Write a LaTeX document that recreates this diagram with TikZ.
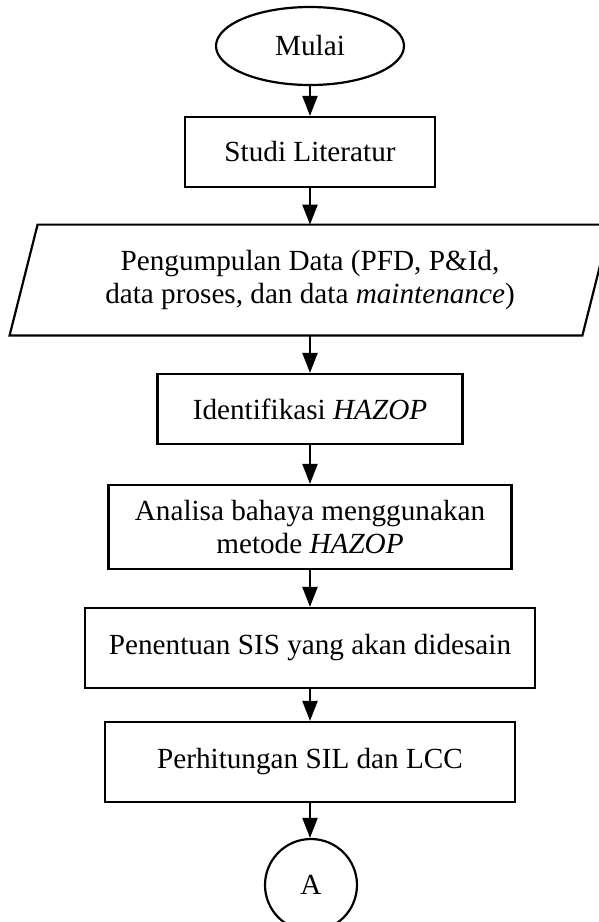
\documentclass[tikz,border=0pt]{standalone}
\usepackage{fontspec}
\setmainfont{Liberation Serif}
\usetikzlibrary{arrows.meta,shapes.geometric,calc}
\begin{document}
\begin{tikzpicture}[x=0.5pt,y=-0.5pt,
  every node/.style={font=\fontsize{14.6}{16.5}\selectfont, align=center, inner sep=0pt},
  procbox/.style={draw, line width=1.1pt, rectangle},
  termshape/.style={draw, line width=1.1pt, ellipse},
  arr/.style={-{Triangle[length=10pt,width=7.5pt]}, line width=1.1pt},
  ]
\useasboundingbox (0,0) rectangle (599,922);
\clip (0,0) rectangle (599,922);
\fill[white] (0,0) rectangle (599,922);

\node[termshape, minimum width=94pt, minimum height=39pt] (start) at (310,46) {Mulai};
\node[procbox, minimum width=125pt, minimum height=35pt] (studi) at (310,152) {Studi Literatur};
\node[minimum width=286pt, minimum height=55pt] (data) at (310,280) {Pengumpulan Data (PFD, P\&Id,\\data proses, dan data \textit{maintenance})};
\draw[line width=1.1pt, line join=miter] ($(data.south west)+(-14,0)$) -- ($(data.south east)+(-14,0)$) -- ($(data.north east)+(14,0)$) -- ($(data.north west)+(14,0)$) -- cycle;
\node[procbox, minimum width=152.5pt, minimum height=35pt] (ident) at (310,409) {Identifikasi \textit{HAZOP}};
\node[procbox, minimum width=201.5pt, minimum height=42pt] (analisa) at (310,527) {Analisa bahaya menggunakan\\metode \textit{HAZOP}};
\node[procbox, minimum width=225pt, minimum height=40pt] (penentuan) at (310,648) {Penentuan SIS yang akan didesain};
\node[procbox, minimum width=205pt, minimum height=40pt] (hitung) at (310,762) {Perhitungan SIL dan LCC};
\node[termshape, minimum width=46pt, minimum height=46pt] (A) at (311,885) {A};

\draw[arr] (start) -- (studi);
\draw[arr] (studi) -- (data);
\draw[arr] (data) -- (ident);
\draw[arr] (ident) -- (analisa);
\draw[arr] (analisa) -- (penentuan);
\draw[arr] (penentuan) -- (hitung);
\draw[arr] (hitung.south) -- (hitung.south |- A.north);
\end{tikzpicture}
\end{document}
